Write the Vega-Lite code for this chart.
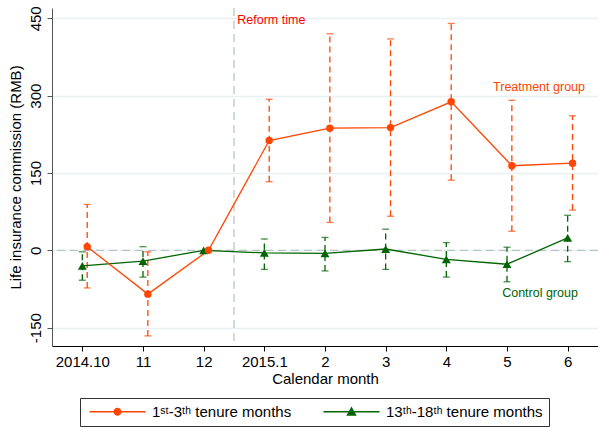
{
  "$schema": "https://vega.github.io/schema/vega-lite/v6.json",
  "width": 546,
  "height": 338,
  "autosize": "none",
  "padding": {"left": 52, "top": 8, "right": 0, "bottom": 84},
  "background": "white",
  "config": {
    "view": {"stroke": null},
    "font": "Liberation Sans",
    "text": {"font": "Liberation Sans"}
  },
  "data": {
    "values": [
      {"m": "2014.10", "i": 0, "g": "C", "v": -30, "lo": -58, "hi": -3},
      {"m": "11", "i": 1, "g": "C", "v": -21, "lo": -52, "hi": 7},
      {"m": "12", "i": 2, "g": "C", "v": 0, "lo": null, "hi": null},
      {"m": "2015.1", "i": 3, "g": "C", "v": -5, "lo": -37, "hi": 22},
      {"m": "2", "i": 4, "g": "C", "v": -6, "lo": -40, "hi": 25},
      {"m": "3", "i": 5, "g": "C", "v": 2.5, "lo": -37, "hi": 41},
      {"m": "4", "i": 6, "g": "C", "v": -17.5, "lo": -52, "hi": 15},
      {"m": "5", "i": 7, "g": "C", "v": -27, "lo": -61, "hi": 6},
      {"m": "6", "i": 8, "g": "C", "v": 24, "lo": -22, "hi": 68},
      {"m": "2014.10", "i": 0, "g": "T", "v": 7, "lo": -73, "hi": 89},
      {"m": "11", "i": 1, "g": "T", "v": -85, "lo": -166, "hi": -3},
      {"m": "12", "i": 2, "g": "T", "v": 0, "lo": null, "hi": null},
      {"m": "2015.1", "i": 3, "g": "T", "v": 213, "lo": 133, "hi": 293},
      {"m": "2", "i": 4, "g": "T", "v": 237, "lo": 54, "hi": 420},
      {"m": "3", "i": 5, "g": "T", "v": 238, "lo": 66, "hi": 410},
      {"m": "4", "i": 6, "g": "T", "v": 288, "lo": 136, "hi": 440},
      {"m": "5", "i": 7, "g": "T", "v": 164, "lo": 37, "hi": 291},
      {"m": "6", "i": 8, "g": "T", "v": 169, "lo": 78, "hi": 261}
    ]
  },
  "transform": [{"calculate": "datum.i + (datum.g == 'T' ? 0.08 : 0)", "as": "xp"}],
  "encoding": {
    "color": {
      "field": "g",
      "type": "nominal",
      "scale": {"domain": ["T", "C"], "range": ["#ff4500", "#006400"]},
      "legend": {
        "orient": "none",
        "legendX": 28,
        "legendY": 390,
        "direction": "horizontal",
        "columns": 2,
        "title": null,
        "strokeColor": "#333333",
        "padding": 6,
        "columnPadding": 28,
        "labelFontSize": 15,
        "labelFont": "Liberation Sans",
        "labelColor": "#000000",
        "labelOffset": 51,
        "symbolSize": 64,
        "symbolStrokeWidth": 0,
        "symbolOpacity": 1,
        "symbolType": {"expr": "datum.value == 'T' ? 'M-1,-0.16L13,-0.16L13,0.16L-1,0.16Z M7,0A1,1,0,1,1,5,0A1,1,0,1,1,7,0Z' : 'M-1,-0.16L13,-0.16L13,0.16L-1,0.16Z M6,-1.3L7.3,1L4.7,1Z'"},
        "labelExpr": "datum.value == 'T' ? '1ˢᵗ-3ᵗʰ tenure months' : '13ᵗʰ-18ᵗʰ tenure months'",
        "encode": {
          "symbols": {
            "update": {
              "fill": {"scale": "color", "field": "value"},
              "stroke": {"value": "transparent"}
            }
          }
        }
      }
    }
  },
  "layer": [
    {
      "data": {"values": [{}]},
      "mark": {"type": "rule", "strokeDash": [8, 5], "strokeWidth": 1.3},
      "encoding": {
        "y": {"datum": 0, "type": "quantitative", "title": "Life insurance commission (RMB)"},
        "color": {"value": "#b8c6c3"}
      }
    },
    {
      "data": {"values": [{}]},
      "mark": {"type": "rule", "strokeDash": [8, 5], "strokeWidth": 1.3},
      "encoding": {
        "x": {"datum": 2.5, "type": "quantitative", "title": "Calendar month"},
        "color": {"value": "#b8c6c3"}
      }
    },
    {
      "mark": {"type": "rule", "strokeDash": [6, 4], "strokeWidth": 1.3},
      "encoding": {
        "x": {"field": "xp", "type": "quantitative", "title": "Calendar month"},
        "y": {"field": "lo", "type": "quantitative", "title": "Life insurance commission (RMB)"},
        "y2": {"field": "hi"}
      }
    },
    {
      "mark": {"type": "tick", "orient": "horizontal", "size": 7, "thickness": 1.3},
      "encoding": {
        "x": {"field": "xp", "type": "quantitative", "title": "Calendar month"},
        "y": {"field": "hi", "type": "quantitative", "title": "Life insurance commission (RMB)"}
      }
    },
    {
      "mark": {"type": "tick", "orient": "horizontal", "size": 7, "thickness": 1.3},
      "encoding": {
        "x": {"field": "xp", "type": "quantitative", "title": "Calendar month"},
        "y": {"field": "lo", "type": "quantitative", "title": "Life insurance commission (RMB)"}
      }
    },
    {
      "mark": {"type": "line", "strokeWidth": 1.3},
      "encoding": {
        "x": {"field": "xp", "type": "quantitative", "title": "Calendar month"},
        "y": {"field": "v", "type": "quantitative", "title": "Life insurance commission (RMB)"}
      }
    },
    {
      "transform": [{"filter": "datum.g == 'C'"}],
      "mark": {"type": "point", "filled": true, "opacity": 1, "shape": "triangle-up", "size": 80},
      "encoding": {
        "x": {"field": "xp", "type": "quantitative", "title": "Calendar month"},
        "y": {"field": "v", "type": "quantitative", "title": "Life insurance commission (RMB)"}
      }
    },
    {
      "transform": [{"filter": "datum.g == 'T'"}],
      "mark": {"type": "point", "filled": true, "opacity": 1, "shape": "circle", "size": 55},
      "encoding": {
        "x": {
          "field": "xp",
          "type": "quantitative",
          "title": "Calendar month",
          "scale": {"domain": [-0.5, 8.5], "nice": false, "zero": false},
          "axis": {
            "values": [0, 1, 2, 3, 4, 5, 6, 7, 8],
            "labelExpr": "['2014.10','11','12','2015.1','2','3','4','5','6'][datum.value]",
            "grid": false,
            "labelFontSize": 15,
            "labelColor": "#000000",
            "labelPadding": 3,
            "tickSize": 5,
            "tickColor": "#000000",
            "domainColor": "#000000",
            "titleFontSize": 15,
            "titleFontWeight": "normal",
            "titleColor": "#000000",
            "titlePadding": 2
          }
        },
        "y": {
          "field": "v",
          "type": "quantitative",
          "title": "Life insurance commission (RMB)",
          "scale": {"domain": [-185.6, 470], "nice": false, "zero": false},
          "axis": {
            "values": [-150, 0, 150, 300, 450],
            "labelExpr": "toString(datum.value)",
            "labelAngle": -90,
            "labelAlign": "center",
            "labelBaseline": "bottom",
            "labelFontSize": 15,
            "labelColor": "#000000",
            "labelPadding": 4,
            "tickSize": 5,
            "tickColor": "#555555",
            "domainColor": "#555555",
            "grid": true,
            "gridColor": "#e9f0f1",
            "gridWidth": 1.5,
            "titleFontSize": 15,
            "titleFontWeight": "normal",
            "titleColor": "#000000",
            "titlePadding": 5
          }
        }
      }
    },
    {
      "data": {"values": [{"label": "Reform time", "x": 2.554, "y": 447.6}]},
      "mark": {"type": "text", "align": "left", "baseline": "middle", "fontSize": 12.5},
      "encoding": {
        "x": {"field": "x", "type": "quantitative", "title": "Calendar month"},
        "y": {"field": "y", "type": "quantitative", "title": "Life insurance commission (RMB)"},
        "text": {"field": "label"},
        "color": {"value": "#ff0000"}
      }
    },
    {
      "data": {"values": [{"label": "Treatment group", "x": 6.77, "y": 316.7}]},
      "mark": {"type": "text", "align": "left", "baseline": "middle", "fontSize": 12.5},
      "encoding": {
        "x": {"field": "x", "type": "quantitative", "title": "Calendar month"},
        "y": {"field": "y", "type": "quantitative", "title": "Life insurance commission (RMB)"},
        "text": {"field": "label"},
        "color": {"value": "#ff4500"}
      }
    },
    {
      "data": {"values": [{"label": "Control group", "x": 6.92, "y": -82}]},
      "mark": {"type": "text", "align": "left", "baseline": "middle", "fontSize": 12.5},
      "encoding": {
        "x": {"field": "x", "type": "quantitative", "title": "Calendar month"},
        "y": {"field": "y", "type": "quantitative", "title": "Life insurance commission (RMB)"},
        "text": {"field": "label"},
        "color": {"value": "#006400"}
      }
    }
  ]
}
